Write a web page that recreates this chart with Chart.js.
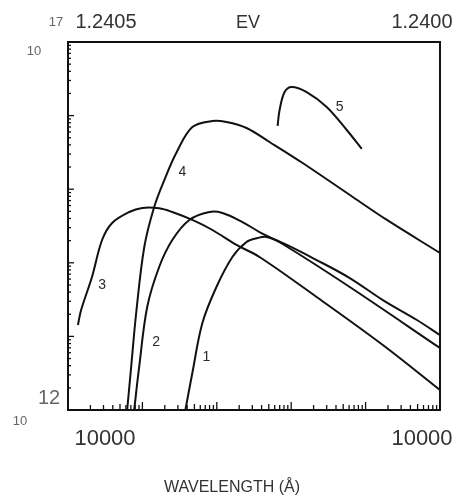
<!DOCTYPE html>
<html><head><meta charset="utf-8">
<script src="https://cdn.jsdelivr.net/npm/chart.js@4"></script>
<style>html,body{margin:0;padding:0;background:#fff;}#wrap{position:relative;width:462px;height:498px;}</style>
</head><body><div id="wrap"><canvas id="c" width="462" height="498"></canvas></div>
<script>
// ---- data (x: relative wavelength on a 5-decade log axis, y: intensity) ----
const curveNames = ["1", "2", "3", "4", "5"];
const curve1X = [37.8, 46.9, 64.0, 98.8, 162, 251, 352, 466, 766, 2198, 6124, 17060, 48980, 100000];
const curve1Y = [1.0e12, 3.18e12, 1.52e13, 4.69e13, 1.20e14, 1.92e14, 2.17e14, 2.24e14, 1.86e14, 1.09e14, 6.21e13, 3.12e13, 1.67e13, 1.04e13];
const curve2X = [7.75, 9.05, 11.6, 16.8, 25.2, 42.7, 79.5, 119, 221, 375, 766, 6124, 100000];
const curve2Y = [1.0e12, 3.84e12, 2.51e13, 8.77e13, 2.04e14, 3.82e14, 4.90e14, 4.75e14, 3.58e14, 2.62e14, 1.80e14, 4.69e13, 6.95e12];
const curve3X = [1.36, 1.50, 2.10, 2.87, 3.92, 6.64, 9.94, 16.8, 25.2, 46.9, 87.3, 184, 375, 2198, 17060, 100000];
const curve3Y = [1.43e13, 2.28e13, 6.41e13, 2.04e14, 3.48e14, 4.90e14, 5.56e14, 5.50e14, 4.90e14, 3.82e14, 2.79e14, 1.75e14, 1.20e14, 3.43e13, 7.64e12, 1.87e12];
const curve4X = [6.24, 7.06, 8.25, 10.6, 14.4, 19.7, 28.5, 46.9, 87.3, 135, 251, 511, 1425, 6720, 19320, 100000];
const curve4Y = [1.0e12, 3.84e12, 2.08e13, 1.64e14, 5.73e14, 1.33e15, 3.10e15, 7.00e15, 8.45e15, 8.19e15, 6.79e15, 4.38e15, 2.27e15, 7.84e14, 3.82e14, 1.36e14];
const curve5X = [656, 698, 815, 1012, 1614, 3000, 5585, 8890];
const curve5Y = [7.23e15, 1.19e16, 2.09e16, 2.45e16, 2.09e16, 1.31e16, 6.37e15, 3.52e15];
// curve number labels, in data coordinates (same order as curveNames)
const nameX = [72.4, 15.3, 2.87, 34.4, 4487];
const nameY = [5.25e12, 8.39e12, 4.99e13, 1.71e15, 1.31e16];
// axis texts
const xTickLabels = ["10000", "10000"];
const topLabels = ["1.2405", "EV", "1.2400"];
const yExpLabels = ["12", "17"];
const yBaseLabel = "10";
const xTitle = "WAVELENGTH (Å)";
const xMin = 1, xMax = 100000, yMin = 1e12, yMax = 1e17;

const seriesX = [curve1X, curve2X, curve3X, curve4X, curve5X];
const seriesY = [curve1Y, curve2Y, curve3Y, curve4Y, curve5Y];
const datasets = seriesX.map((xs, i) => ({
  label: curveNames[i],
  data: xs.map((x, j) => ({x: x, y: seriesY[i][j]})),
  showLine: true, pointRadius: 0, borderColor: '#111', borderWidth: 2,
  tension: 0.35, fill: false
}));

const decor = {
  id: 'decor',
  afterDraw(chart) {
    const ctx = chart.ctx, ca = chart.chartArea;
    const xs = chart.scales.x, ys = chart.scales.y;
    ctx.save();
    // inward minor/major ticks on bottom and left axes
    ctx.strokeStyle = '#111'; ctx.lineWidth = 1.3;
    for (let d = 0; d < 5; d++) {
      for (let m = 2; m <= 10; m++) {
        const v = m * Math.pow(10, d);
        const px = xs.getPixelForValue(v);
        const len = m === 10 ? 8 : (m === 5 ? 6 : 5);
        ctx.beginPath(); ctx.moveTo(px, ca.bottom); ctx.lineTo(px, ca.bottom - len); ctx.stroke();
      }
    }
    for (let d = 12; d < 17; d++) {
      for (let m = 2; m <= 10; m++) {
        const v = m * Math.pow(10, d);
        const py = ys.getPixelForValue(v);
        const len = m === 10 ? 6 : 3;
        ctx.beginPath(); ctx.moveTo(ca.left, py); ctx.lineTo(ca.left + len, py); ctx.stroke();
      }
    }
    // curve number labels
    ctx.fillStyle = '#2a2a2a'; ctx.textAlign = 'center'; ctx.textBaseline = 'middle';
    ctx.font = '14px "Liberation Sans", Arial, sans-serif';
    curveNames.forEach((n, i) => {
      ctx.fillText(n, xs.getPixelForValue(nameX[i]), ys.getPixelForValue(nameY[i]));
    });
    // top labels
    ctx.fillStyle = '#333';
    ctx.textBaseline = 'alphabetic';
    ctx.font = '20px "Liberation Sans", Arial, sans-serif';
    ctx.fillText(topLabels[0], ca.left + 38, 28);
    ctx.font = '18px "Liberation Sans", Arial, sans-serif';
    ctx.fillText(topLabels[1], (ca.left + ca.right) / 2 - 6, 28);
    ctx.font = '20px "Liberation Sans", Arial, sans-serif';
    ctx.fillText(topLabels[2], ca.right - 18, 28);
    // bottom tick labels
    ctx.font = '22px "Liberation Sans", Arial, sans-serif';
    ctx.fillText(xTickLabels[0], ca.left + 37, 445);
    ctx.fillText(xTickLabels[1], ca.right - 18, 445);
    // x title
    ctx.font = '16px "Liberation Sans", Arial, sans-serif';
    ctx.fillText(xTitle, 232, 492);
    // y exponent labels
    ctx.fillStyle = '#666';
    ctx.font = '20px "Liberation Sans", Arial, sans-serif';
    ctx.fillText(yExpLabels[0], 49, ca.bottom - 6);
    ctx.font = '13px "Liberation Sans", Arial, sans-serif';
    ctx.fillText(yBaseLabel, 20, ca.bottom + 15);
    ctx.fillText(yExpLabels[1], 56, 26);
    ctx.fillText(yBaseLabel, 34, 55);
    ctx.restore();
  }
};

const frameAxis = (pos, axis, min, max) => ({
  type: 'logarithmic', position: pos, axis: axis, min: min, max: max, display: true,
  ticks: {display: false}, grid: {display: false, drawOnChartArea: false, drawTicks: false},
  border: {display: true, color: '#111', width: 2}, title: {display: false}
});

new Chart(document.getElementById('c'), {
  type: 'scatter',
  data: {datasets: datasets},
  options: {
    responsive: false, animation: false, devicePixelRatio: 1,
    layout: {padding: {left: 68, right: 22, top: 42, bottom: 88}},
    plugins: {legend: {display: false}, tooltip: {enabled: false}, title: {display: false}},
    scales: {
      x: frameAxis('bottom', 'x', xMin, xMax),
      y: frameAxis('left', 'y', yMin, yMax),
      x2: frameAxis('top', 'x', xMin, xMax),
      y2: frameAxis('right', 'y', yMin, yMax)
    }
  },
  plugins: [decor]
});
</script></body></html>
